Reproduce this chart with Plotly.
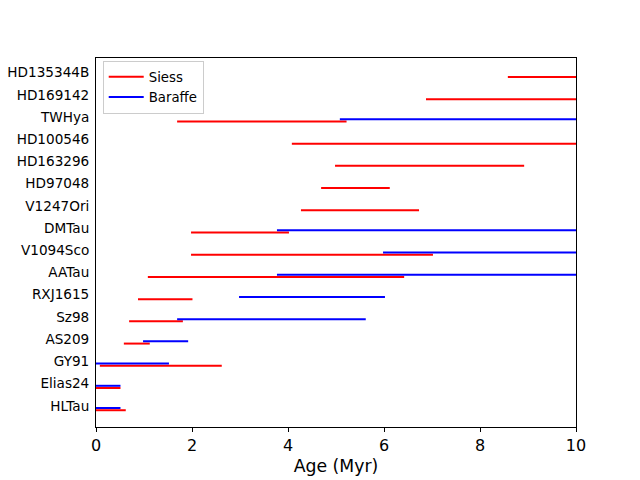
import plotly.graph_objects as go

stars = ["HLTau", "Elias24", "GY91", "AS209", "Sz98", "RXJ1615", "AATau", "V1094Sco",
         "DMTau", "V1247Ori", "HD97048", "HD163296", "HD100546", "TWHya", "HD169142", "HD135344B"]

siess_lo = [0.0, 0.0, 0.08, 0.58, 0.69, 0.875, 1.08, 1.98, 1.98, 4.27, 4.69, 4.98, 4.08, 1.69, 6.875, 8.58]
siess_hi = [0.62, 0.51, 2.62, 1.12, 1.81, 2.01, 6.42, 7.02, 4.02, 6.73, 6.12, 8.92, 10.0, 5.22, 10.0, 10.0]

baraffe_lo = [0.0, 0.0, 0.0, 0.98, 1.69, 2.98, 3.77, 5.98, 3.77, None, None, None, None, 5.08, None, None]
baraffe_hi = [0.51, 0.51, 1.52, 1.92, 5.62, 6.02, 10.0, 10.0, 10.0, None, None, None, None, 10.0, None, None]

RED_OFF = -0.2
BLUE_OFF = -0.1


def segs(lo, hi, off):
    xs, ys = [], []
    for i, (a, b) in enumerate(zip(lo, hi)):
        if a is None:
            continue
        xs += [a, b, None]
        ys += [i + off, i + off, None]
    return xs, ys


fig = go.Figure()
xs, ys = segs(siess_lo, siess_hi, RED_OFF)
fig.add_trace(go.Scatter(x=xs, y=ys, mode="lines", name="Siess",
                         line=dict(color="#ff0000", width=2)))
xs, ys = segs(baraffe_lo, baraffe_hi, BLUE_OFF)
fig.add_trace(go.Scatter(x=xs, y=ys, mode="lines", name="Baraffe",
                         line=dict(color="#0000ff", width=2)))

fig.update_layout(
    width=640, height=480,
    margin=dict(l=96, r=64, t=58, b=53),
    plot_bgcolor="white", paper_bgcolor="white",
    font=dict(family="DejaVu Sans", color="black", size=13),
    legend=dict(x=0.014, y=0.993, xanchor="left", yanchor="top",
                bgcolor="rgba(255,255,255,0.8)", bordercolor="#cccccc", borderwidth=1,
                font=dict(size=13.3), tracegroupgap=0, itemwidth=35),
    xaxis=dict(range=[0, 10], tickvals=[0, 2, 4, 6, 8, 10], ticks="outside", ticklen=4,
               tickwidth=1, tickcolor="black", showline=True, linecolor="black", linewidth=1,
               mirror=True, showgrid=False, zeroline=False, tickfont=dict(size=16),
               automargin=False,
               title=dict(text="Age (Myr)", font=dict(size=17.3), standoff=5)),
    yaxis=dict(range=[-0.955, 15.655], tickvals=list(range(len(stars))), ticktext=stars,
               ticks="", showline=True, linecolor="black", linewidth=1, mirror=True,
               showgrid=False, zeroline=False, tickfont=dict(size=13.6), ticklabelstandoff=3,
               automargin=False),
)

fig.write_html("out.html")
